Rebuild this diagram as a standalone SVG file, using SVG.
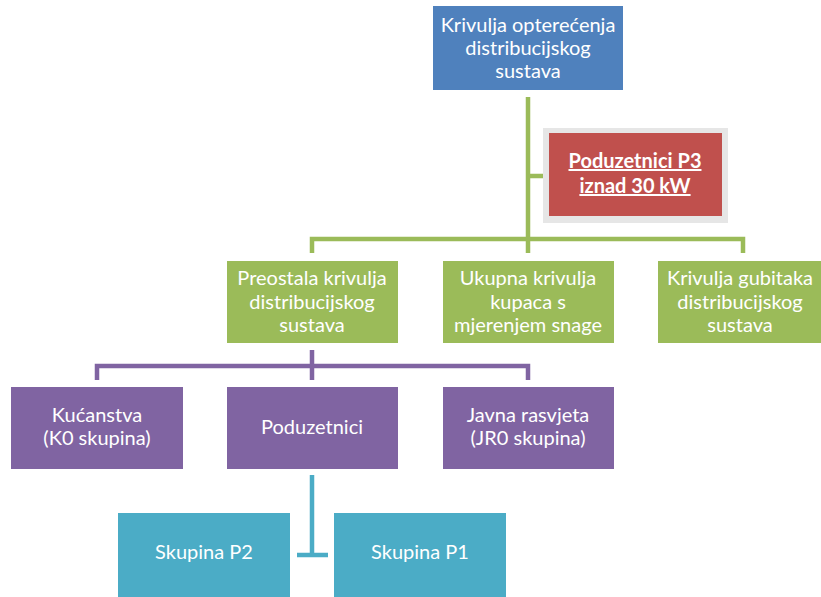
<svg xmlns="http://www.w3.org/2000/svg" width="821" height="597" viewBox="0 0 821 597">
<style>
text{font-family:Lato,"Liberation Sans",sans-serif;font-size:20px;fill:#fff;text-anchor:middle}
.blue{fill:#4F81BD}
.red{fill:#C0504D}
.green{fill:#9BBB59}
.purple{fill:#8064A2}
.teal{fill:#4BACC6}
.cg{stroke:#9BBB59;stroke-width:4.5;fill:none}
.cp{stroke:#8064A2;stroke-width:4.5;fill:none}
.ct{stroke:#4BACC6;stroke-width:4.5;fill:none}
.b{font-weight:bold;text-decoration:underline}
</style>
<rect width="821" height="597" fill="#fff"/>
<g id="connectors">
<path class="cg" d="M528,97 V240 M528,176 H545 M312,253 V239 H743 V253 M528,239 V253"/>
<path class="cp" d="M312,350 V380 M97,380 V366 H528 V380"/>
<path class="ct" d="M312,475 V555 M297,555 H328"/>
</g>
<g id="n_top"><rect class="blue" x="433" y="6" width="190" height="84"/>
<text x="528" y="32">Krivulja opterećenja</text><text x="528" y="55">distribucijskog</text><text x="528" y="78">sustava</text></g>
<g id="n_p3"><rect x="543" y="128" width="185" height="95" fill="#e6e6e6"/><rect class="red" x="549" y="133" width="173" height="83"/>
<text class="b" x="635" y="168">Poduzetnici P3</text><text class="b" x="635" y="193">iznad 30 kW</text></g>
<g id="n_preostala"><rect class="green" x="227" y="261" width="171" height="82"/>
<text x="312" y="285">Preostala krivulja</text><text x="312" y="309">distribucijskog</text><text x="312" y="332">sustava</text></g>
<g id="n_ukupna"><rect class="green" x="443" y="261" width="171" height="82"/>
<text x="528" y="285">Ukupna krivulja</text><text x="528" y="309">kupaca s</text><text x="528" y="332">mjerenjem snage</text></g>
<g id="n_gubici"><rect class="green" x="658" y="261" width="163" height="82"/>
<text x="740" y="285">Krivulja gubitaka</text><text x="740" y="309">distribucijskog</text><text x="740" y="332">sustava</text></g>
<g id="n_kucanstva"><rect class="purple" x="11" y="387" width="172" height="82"/>
<text x="97" y="422">Kućanstva</text><text x="97" y="445">(K0 skupina)</text></g>
<g id="n_poduzetnici"><rect class="purple" x="227" y="387" width="171" height="82"/>
<text x="312" y="434">Poduzetnici</text></g>
<g id="n_javna"><rect class="purple" x="443" y="387" width="171" height="82"/>
<text x="528" y="422">Javna rasvjeta</text><text x="528" y="445">(JR0 skupina)</text></g>
<g id="n_p2"><rect class="teal" x="118" y="513" width="172" height="84"/>
<text x="204" y="559">Skupina P2</text></g>
<g id="n_p1"><rect class="teal" x="334" y="513" width="172" height="84"/>
<text x="420" y="559">Skupina P1</text></g>
</svg>
